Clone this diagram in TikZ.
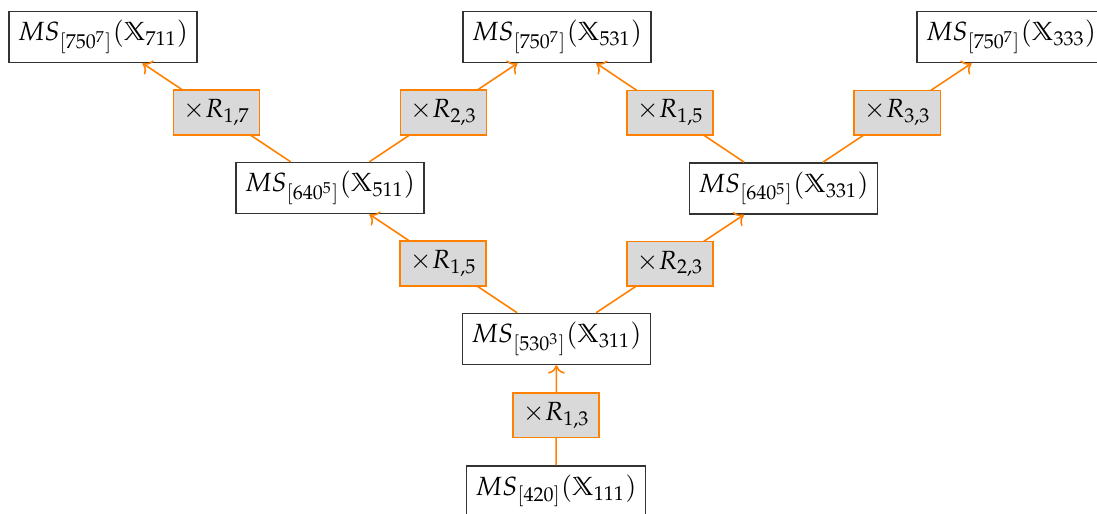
\documentclass[tikz,border=0pt]{standalone}
\usepackage{amssymb}
\usepackage{mathpazo}
\usetikzlibrary{arrows.meta}
\begin{document}
\begin{tikzpicture}[x=0.38pt,y=-0.38pt,
  msbox/.style={draw=black!80, fill=white, line width=0.5pt, inner sep=3.4pt, minimum height=19pt},
  rbox/.style={draw=orange, fill=gray!30, line width=0.6pt, inner sep=3pt, minimum height=17pt, minimum width=32.7pt},
  conn/.style={draw=orange, line width=0.6pt, -{To[length=3.2pt,width=6.4pt]}}]
\useasboundingbox (0,0) rectangle (1097,514);
\node[msbox] (n111) at (556,491) {$MS_{[420]}(\mathbb{X}_{111})$};
\node[msbox] (n311) at (556.5,339) {$MS_{[530^3]}(\mathbb{X}_{311})$};
\node[msbox] (n511) at (330,188) {$MS_{[640^5]}(\mathbb{X}_{511})$};
\node[msbox] (n331) at (783.5,188.5) {$MS_{[640^5]}(\mathbb{X}_{331})$};
\node[msbox] (n711) at (103,37) {$MS_{[750^7]}(\mathbb{X}_{711})$};
\node[msbox] (n531) at (557,37) {$MS_{[750^7]}(\mathbb{X}_{531})$};
\node[msbox] (n333) at (1011,37) {$MS_{[750^7]}(\mathbb{X}_{333})$};
\draw[conn] (n111) -- node[rbox] (r13) {$\times R_{1,3}$} (n311);
\draw[conn] (n311) -- node[rbox] (r15a) {$\times R_{1,5}$} (n511);
\draw[conn] (n311) -- node[rbox] (r23a) {$\times R_{2,3}$} (n331);
\draw[conn] (n511) -- node[rbox] (r17) {$\times R_{1,7}$} (n711);
\draw[conn] (n511) -- node[rbox] (r23b) {$\times R_{2,3}$} (n531);
\draw[conn] (n331) -- node[rbox] (r15b) {$\times R_{1,5}$} (n531);
\draw[conn] (n331) -- node[rbox] (r33) {$\times R_{3,3}$} (n333);
\end{tikzpicture}
\end{document}
